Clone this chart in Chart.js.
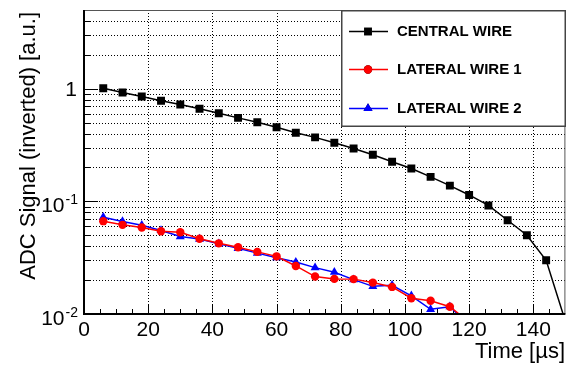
<!DOCTYPE html>
<html>
<head>
<meta charset="utf-8">
<script src="https://cdn.jsdelivr.net/npm/chart.js@4.4.1/dist/chart.umd.min.js"></script>
<style>
html,body{margin:0;padding:0;background:#fff;}
canvas{display:block;}
</style>
</head>
<body>
<canvas id="c" width="571" height="369"></canvas>
<script>
// ---- data ----
const timesCentral = [6,12,18,24,30,36,42,48,54,60,66,72,78,84,90,96,102,108,114,120,126,132,138,144,150];
const centralWire = [1.01,0.927,0.853,0.781,0.724,0.663,0.606,0.551,0.504,0.455,0.407,0.370,0.332,0.295,0.259,0.225,0.196,0.165,0.138,0.114,0.092,0.068,0.050,0.030,0.0086];
const timesLateral = [6,12,18,24,30,36,42,48,54,60,66,72,78,84,90,96,102,108,114,120];
const lateralWire1 = [0.0667,0.0619,0.0586,0.0543,0.0532,0.0465,0.0424,0.0391,0.0356,0.0325,0.0267,0.0215,0.0205,0.0204,0.0190,0.0174,0.0138,0.0131,0.0116,0.0085];
const lateralWire2 = [0.0724,0.0663,0.0614,0.0551,0.0487,0.0463,0.0420,0.0383,0.0347,0.0316,0.0289,0.0258,0.0235,0.0202,0.0176,0.0180,0.0145,0.0110,0.0116,0.0080];
const seriesNames = ['CENTRAL WIRE','LATERAL WIRE 1','LATERAL WIRE 2'];
const xTickLabels = [0,20,40,60,80,100,120,140];
const xMinorTicks = [5,10,15,25,30,35,45,50,55,65,70,75,85,90,95,105,110,115,125,130,135,145];
const yMajorTicks = [0.01,0.1,1];
const yTickLabels = [{v:0.01,base:'10',exp:'-2'},{v:0.1,base:'10',exp:'-1'},{v:1,base:'1',exp:''}];
const yMinorTicks = [0.02,0.03,0.04,0.05,0.06,0.07,0.08,0.09,0.2,0.3,0.4,0.5,0.6,0.7,0.8,0.9,2,3,4];
const xTitle = 'Time [\u00b5s]';
const yTitle = 'ADC Signal (inverted) [a.u.]';

const toPts = (xs, ys) => ys.map((v,i)=>({x:xs[i], y:v}));
const FONT = '"Liberation Sans", Arial, Helvetica, sans-serif';

const rootStyle = {
  id: 'rootStyle',
  beforeDatasetsDraw(chart){
    const {ctx, chartArea:a, scales:{x, y}} = chart;
    ctx.save();
    ctx.fillStyle = '#fff';
    ctx.fillRect(a.left, a.top, a.right-a.left, a.bottom-a.top);
    // grid
    ctx.strokeStyle = '#000';
    ctx.lineWidth = 1;
    ctx.setLineDash([1,2]);
    [0.02,0.03,0.04,0.05,0.06,0.07,0.08,0.09,0.1,0.2,0.3,0.4,0.5,0.6,0.7,0.8,0.9,1,2,3,4].forEach(v=>{
      const py = Math.round(y.getPixelForValue(v))+0.5;
      ctx.beginPath(); ctx.moveTo(a.left, py); ctx.lineTo(a.right, py); ctx.stroke();
    });
    xTickLabels.slice(1).forEach(v=>{
      const px = Math.round(x.getPixelForValue(v))+0.5;
      ctx.beginPath(); ctx.moveTo(px, a.top); ctx.lineTo(px, a.bottom); ctx.stroke();
    });
    ctx.setLineDash([]);
    // ticks
    ctx.lineWidth = 1;
    yMajorTicks.forEach(v=>{
      const py = Math.round(y.getPixelForValue(v))+0.5;
      ctx.beginPath(); ctx.moveTo(a.left, py); ctx.lineTo(a.left+14, py); ctx.stroke();
    });
    yMinorTicks.forEach(v=>{
      const py = Math.round(y.getPixelForValue(v))+0.5;
      ctx.beginPath(); ctx.moveTo(a.left, py); ctx.lineTo(a.left+7, py); ctx.stroke();
    });
    xTickLabels.forEach(v=>{
      const px = Math.round(x.getPixelForValue(v))+0.5;
      ctx.beginPath(); ctx.moveTo(px, a.bottom); ctx.lineTo(px, a.bottom-9); ctx.stroke();
    });
    xMinorTicks.forEach(v=>{
      const px = Math.round(x.getPixelForValue(v))+0.5;
      ctx.beginPath(); ctx.moveTo(px, a.bottom); ctx.lineTo(px, a.bottom-5); ctx.stroke();
    });
    ctx.restore();
  },
  afterDatasetsDraw(chart){
    const {ctx, chartArea:a, scales:{x, y}} = chart;
    ctx.save();
    // frame
    ctx.strokeStyle = '#555';
    ctx.lineWidth = 1;
    ctx.strokeRect(a.left+0.5, a.top+0.5, a.right-a.left-1, a.bottom-a.top-1);
    ctx.strokeStyle = '#000';
    ctx.lineWidth = 2;
    ctx.beginPath();
    ctx.moveTo(a.left, a.top); ctx.lineTo(a.left, a.bottom); ctx.lineTo(a.right, a.bottom);
    ctx.stroke();
    // legend
    const lx0 = 341, ly0 = 10, lx1 = 566, ly1 = 127;
    ctx.fillStyle = '#fff';
    ctx.fillRect(lx0, ly0, lx1-lx0, ly1-ly0);
    ctx.strokeStyle = '#444';
    ctx.lineWidth = 1.5;
    ctx.strokeRect(lx0+0.75, ly0+0.75, lx1-lx0-1.5, ly1-ly0-1.5);
    const rows = [31, 69, 108];
    chart.data.datasets.forEach((ds, i)=>{
      const cy = rows[i];
      ctx.strokeStyle = ds.borderColor;
      ctx.lineWidth = 1.5;
      ctx.beginPath(); ctx.moveTo(349, cy+0.5); ctx.lineTo(388, cy+0.5); ctx.stroke();
      Chart.helpers.drawPoint(ctx, {pointStyle: ds.pointStyle, radius: ds.pointRadius, rotation: 0, borderWidth: 0}, 368, cy+0.5);
      ctx.fillStyle = ds.borderColor;
      ctx.fill();
      ctx.fillStyle = '#000';
      ctx.font = 'bold 15px ' + FONT;
      ctx.textAlign = 'left';
      ctx.textBaseline = 'middle';
      ctx.fillText(ds.label, 397, cy+1);
    });
    ctx.restore();
  },
  afterDraw(chart){
    const {ctx, chartArea:a, scales:{x, y}} = chart;
    ctx.save();
    ctx.fillStyle = '#000';
    // x tick labels
    ctx.font = '21px ' + FONT;
    ctx.textAlign = 'center';
    ctx.textBaseline = 'middle';
    xTickLabels.forEach(v=>{
      ctx.fillText(String(v), x.getPixelForValue(v), 330);
    });
    // y tick labels
    yTickLabels.forEach(t=>{
      const py = y.getPixelForValue(t.v);
      if (!t.exp){
        ctx.font = '21px ' + FONT;
        ctx.textAlign = 'right';
        ctx.textBaseline = 'middle';
        ctx.fillText(t.base, 77, py+1);
      } else {
        ctx.font = '14px ' + FONT;
        ctx.textAlign = 'right';
        ctx.textBaseline = 'middle';
        const ew = ctx.measureText(t.exp).width;
        ctx.fillText(t.exp, 78, py-1);
        ctx.font = '21px ' + FONT;
        ctx.fillText(t.base, 78-ew-1, py+5);
      }
    });
    // axis titles
    ctx.font = '22px ' + FONT;
    ctx.textAlign = 'right';
    ctx.textBaseline = 'alphabetic';
    ctx.fillText(xTitle, 565, 358);
    ctx.translate(35, 12);
    ctx.rotate(-Math.PI/2);
    ctx.fillText(yTitle, 0, 0);
    ctx.restore();
  }
};

new Chart(document.getElementById('c'), {
  type: 'line',
  data: {
    datasets: [
      {label: seriesNames[0], data: toPts(timesCentral, centralWire), borderColor:'#000000', backgroundColor:'#000000', pointStyle:'rect', pointRadius:5.6, pointBorderWidth:0, borderWidth:1.5},
      {label: seriesNames[1], data: toPts(timesLateral, lateralWire1), borderColor:'#ff0000', backgroundColor:'#ff0000', pointStyle:'circle', pointRadius:4.2, pointBorderWidth:0, borderWidth:1.5},
      {label: seriesNames[2], data: toPts(timesLateral, lateralWire2), borderColor:'#0000ff', backgroundColor:'#0000ff', pointStyle:'triangle', pointRadius:5.2, pointBorderWidth:0, borderWidth:1.5}
    ]
  },
  options: {
    responsive: false,
    devicePixelRatio: 1,
    animation: false,
    layout: {padding: {left:84, top:10, right:5, bottom:55}},
    plugins: {legend:{display:false}, tooltip:{enabled:false}},
    elements: {line:{tension:0}},
    scales: {
      x: {type:'linear', min:0, max:150, ticks:{display:false}, grid:{display:false}, border:{display:false}, afterFit(s){s.height=0;}},
      y: {type:'logarithmic', min:0.01, max:5, ticks:{display:false}, grid:{display:false}, border:{display:false}, afterFit(s){s.width=0;}}
    }
  },
  plugins: [rootStyle]
});
</script>
</body>
</html>
